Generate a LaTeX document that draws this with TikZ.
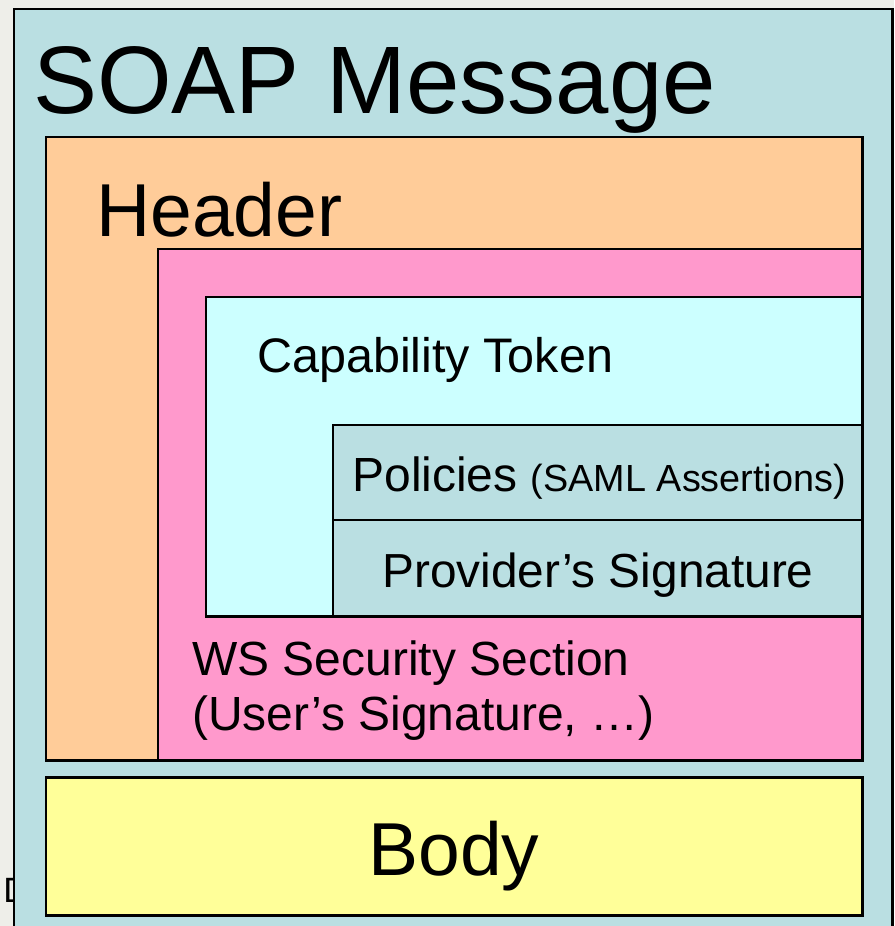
\documentclass[tikz,border=0pt]{standalone}
\usepackage{fontspec}
\setmainfont{Liberation Sans}
\usepackage{xcolor}
\usepackage{tikz}
\usetikzlibrary{shadows}

\definecolor{soapblue}{RGB}{186,223,226}
\definecolor{headerorange}{RGB}{255,204,153}
\definecolor{wspink}{RGB}{255,153,204}
\definecolor{tokencyan}{RGB}{204,255,255}
\definecolor{bodyyellow}{RGB}{255,255,153}
\definecolor{slidebg}{RGB}{238,238,233}

\tikzset{
  part/.style={draw=black, line width=1.7pt},
  lbl/.style={inner sep=0pt, anchor=base west, text=black},
}

\begin{document}
\begin{tikzpicture}[x=0.02cm, y=-0.02cm]
\useasboundingbox (0,0) rectangle (894,926);
\clip (0,0) rectangle (894,926);
\fill[slidebg] (0,0) rectangle (894,926);
\node[lbl, font=\fontsize{20}{24}\selectfont] (dfrag) at (3,902) {D};

% message envelope
\filldraw[part, fill=soapblue] (14,9) rectangle (892,960);
\node[lbl, font=\fontsize{54.6}{60}\selectfont] (soap) at (33,113) {SOAP Message};

% header and its parts
\filldraw[part, fill=headerorange] (46,137) rectangle (862,760);
\node[lbl, font=\fontsize{42.7}{48}\selectfont] (header) at (96,236) {Header};
\filldraw[part, fill=wspink] (158,249) rectangle (862,760);
\filldraw[part, fill=tokencyan] (206,297) rectangle (862,616);
\node[lbl, font=\fontsize{27.6}{32}\selectfont] (token) at (257,372) {Capability Token};
\filldraw[part, fill=soapblue] (333,425) rectangle (862,520);
\filldraw[part, fill=soapblue] (333,520) rectangle (862,616);
\node[lbl] (policies) at (352,491)
  {\fontsize{27.3}{32}\selectfont Policies {\fontsize{21.5}{25}\selectfont (SAML Assertions)}};
\node[inner sep=0pt, anchor=base, font=\fontsize{27.2}{32}\selectfont] (provsig) at (598,587) {Provider’s Signature};
\node[lbl, align=left, font=\fontsize{27.3}{31.2}\selectfont] (wssec) at (192,730)
  {WS Security Section\\(User’s Signature, …)};

% body
\filldraw[part, fill=bodyyellow, drop shadow={shadow xshift=1pt, shadow yshift=-1pt, fill=black!45, opacity=1}]
  (46,777) rectangle (862,915);
\node[inner sep=0pt, anchor=base, font=\fontsize{42.7}{48}\selectfont] (body) at (454,875) {Body};
\end{tikzpicture}
\end{document}
